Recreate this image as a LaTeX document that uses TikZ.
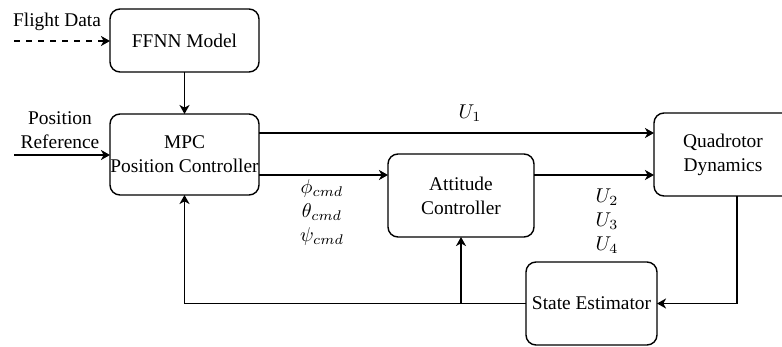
\documentclass[tikz,border=0pt]{standalone}
\usepackage{fontspec}
\setmainfont{Liberation Serif}
\usetikzlibrary{arrows.meta}

\begin{document}
\begin{tikzpicture}[x=0.5pt,y=-0.5pt,
    font=\fontsize{9.7pt}{12pt}\selectfont,
    block/.style={draw,line width=0.7pt,rounded corners=5pt,align=center,
      inner sep=0pt,outer sep=0pt,minimum height=41.5pt},
    arr/.style={line width=0.7pt,-{Stealth[length=4.5pt,width=5pt,inset=1.3pt]}},
    lbl/.style={align=center,inner sep=0pt}]
    \clip (0,0) rectangle (782,347);

    \node[block,minimum width=74.5pt,minimum height=31.5pt] (ffnn) at (184.5,40.5) {FFNN Model};
    \node[block,minimum width=74.5pt,minimum height=40.5pt] (mpc) at (184.5,154.5) {MPC\\Position Controller};
    \node[block,minimum width=73pt] (att) at (461,195.5) {Attitude\\Controller};
    \node[block,minimum width=69pt] (quad) at (723,154.5) {Quadrotor\\Dynamics};
    \node[block,minimum width=65.5pt] (est) at (591.5,303.5) {State Estimator};

    \coordinate (fd) at (14,41);
    \coordinate (pr) at (14,155);
    \node[lbl] (fdtext) at (57,22) {Flight Data};
    \node[lbl] (prtext) at (60,130) {Position\\Reference};

    \draw[arr,dashed] (fd) -- (fd -| ffnn.west);
    \draw[arr] (ffnn.south) -- (mpc.north);
    \draw[arr] (pr) -- (pr -| mpc.west);

    \draw[arr] ([yshift=10.75pt]mpc.east) -- ([yshift=10.75pt]quad.west);
    \node[lbl] (u1) at (470,113) {$U_1$};
    \draw[arr] ([yshift=-10.25pt]mpc.east) -- ([yshift=-10.25pt]mpc.east -| att.west);
    \node[lbl] (cmd) at (322,213) {$\phi_{cmd}$\\$\theta_{cmd}$\\$\psi_{cmd}$};
    \draw[arr] ([yshift=10.25pt]att.east) -- ([yshift=10.25pt]att.east -| quad.west);
    \node[lbl] (u234) at (607,221) {$U_2$\\$U_3$\\$U_4$};

    \draw[arr] ([xshift=7pt]quad.south) |- (est.east);
    \draw[arr] (est.west) -| (mpc.south);
    \draw[arr] (att.south |- est.west) -- (att.south);
\end{tikzpicture}
\end{document}
